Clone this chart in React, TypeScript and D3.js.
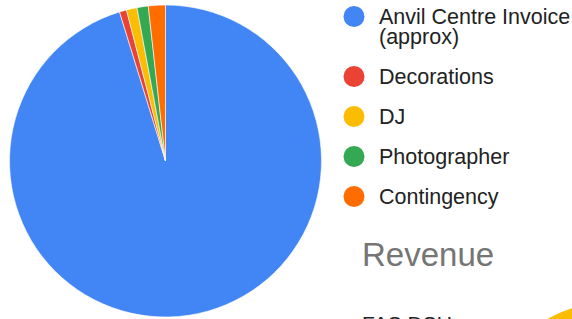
import React, { useEffect, useRef } from 'react';
import * as d3 from 'd3';

const categories = ['Anvil Centre Invoice (approx)', 'Decorations', 'DJ', 'Photographer', 'Contingency'];
const costs = [8000, 62, 92, 98, 148];
const colors = ['#4285f4', '#ea4335', '#fbbc04', '#34a853', '#ff6d01'];
const legendLines = [['Anvil Centre Invoice', '(approx)'], ['Decorations'], ['DJ'], ['Photographer'], ['Contingency']];

const revenueLabels = ['FAS DSUs'];
const revenueValues = [1];
const revenueColors = ['#fbbc04'];

const W = 572;
const H = 319;

const drawChart = (element: SVGSVGElement) => {
	const svg = d3.select(element);
	svg.selectAll('*').remove();

	const font = 'Arial, "Liberation Sans", sans-serif';

	// expense pie
	const pie = d3.pie<number>().sort(null).value((d) => d);
	const arc = d3.arc<d3.PieArcDatum<number>>().innerRadius(0).outerRadius(156);
	const g = svg.append('g').attr('transform', 'translate(165.5, 161)');
	g.selectAll('path')
		.data(pie(costs))
		.enter()
		.append('path')
		.attr('d', arc)
		.style('fill', (d, i) => colors[i])
		.style('stroke', '#fff')
		.style('stroke-width', 0.6);

	// legend
	const legend = svg.append('g');
	const rowY = [16.5, 76.5, 116.5, 156.5, 196.5];
	categories.forEach((c, i) => {
		const row = legend.append('g').attr('transform', `translate(0, ${rowY[i]})`);
		row.append('circle').attr('cx', 354).attr('cy', 0).attr('r', 10.5).style('fill', colors[i]);
		legendLines[i].forEach((line, j) => {
			row.append('text')
				.attr('x', 379)
				.attr('y', 7.5 + j * 20)
				.style('font-family', font)
				.style('font-size', '21.5px')
				.style('fill', '#222')
				.text(line);
		});
	});

	// revenue chart title
	svg.append('text')
		.attr('x', 362)
		.attr('y', 266)
		.style('font-family', font)
		.style('font-size', '33px')
		.style('fill', '#757575')
		.text('Revenue');

	svg.append('text')
		.attr('x', 362)
		.attr('y', 331)
		.style('font-family', font)
		.style('font-size', '21px')
		.style('fill', '#222')
		.text(revenueLabels[0]);

	// revenue pie peeking in from the corner
	const rg = svg.append('g').attr('transform', 'translate(622, 456)');
	const rarc = d3.arc<d3.PieArcDatum<number>>().innerRadius(0).outerRadius(156);
	rg.selectAll('path')
		.data(pie(revenueValues))
		.enter()
		.append('path')
		.attr('d', rarc)
		.style('fill', (d, i) => revenueColors[i]);
};

export default function App() {
	const ref = useRef<SVGSVGElement>(null);

	useEffect(() => {
		if (ref.current) {
			drawChart(ref.current);
		}
	}, [ref]);

	return (
		<svg
			ref={ref}
			width={W}
			height={H}
			style={{ position: 'fixed', top: 0, left: 0, background: '#fff' }}
		/>
	);
}
